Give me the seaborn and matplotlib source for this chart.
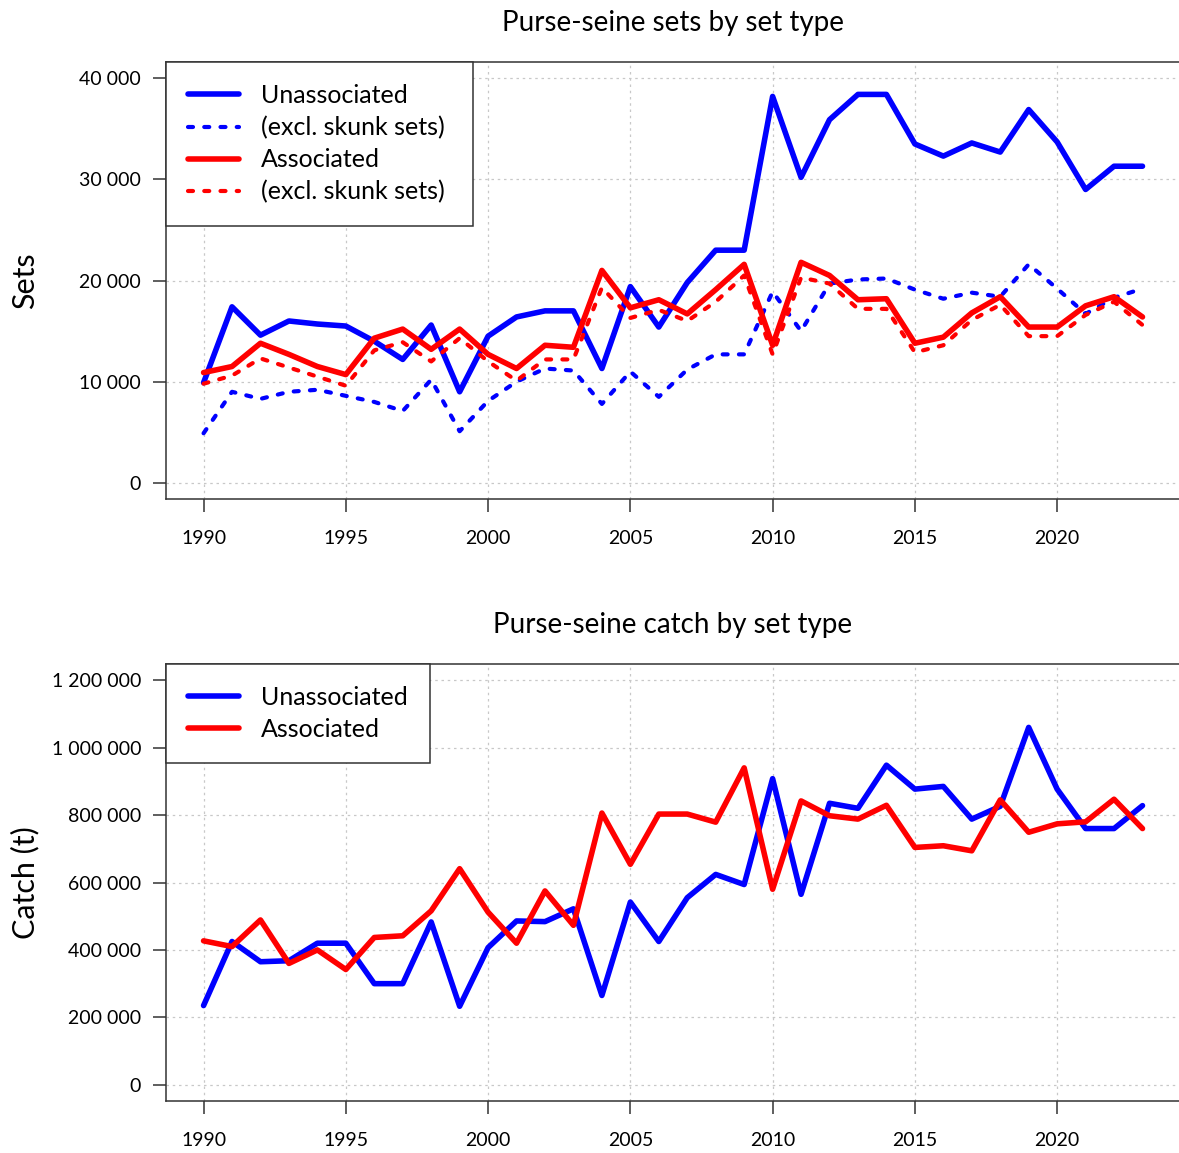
import matplotlib
matplotlib.use("Agg")
import matplotlib.pyplot as plt
import seaborn as sns

# Fishing years
years = list(range(1990, 2024))

# Number of purse-seine sets
unassoc_sets = [9900, 17400, 14600, 16000, 15700, 15500, 14000, 12200, 15600, 9000,
                14500, 16400, 17000, 17000, 11300, 19400, 15400, 19800, 23000, 23000,
                38200, 30200, 35900, 38400, 38400, 33500, 32300, 33600, 32700, 36900,
                33700, 29000, 31300, 31300]
unassoc_sets_excl = [4900, 9000, 8300, 9000, 9200, 8600, 8000, 7100, 10200, 5100,
                     8100, 10000, 11300, 11100, 7800, 11000, 8500, 11200, 12700, 12700,
                     18900, 15000, 19700, 20100, 20200, 19100, 18200, 18800, 18400, 21600,
                     19200, 16700, 18300, 19200]
assoc_sets = [10900, 11500, 13800, 12700, 11500, 10700, 14300, 15200, 13200, 15200,
              12700, 11300, 13600, 13400, 21000, 17300, 18100, 16700, 19100, 21600,
              13600, 21800, 20500, 18100, 18200, 13800, 14400, 16800, 18400, 15400,
              15400, 17500, 18400, 16400]
assoc_sets_excl = [9800, 10600, 12300, 11400, 10500, 9600, 13100, 13900, 12000, 14300,
                   12000, 10100, 12200, 12200, 19300, 16300, 17100, 16000, 17900, 20500,
                   12700, 20300, 19700, 17200, 17200, 12900, 13600, 16100, 17600, 14500,
                   14500, 16600, 17900, 15600]

# Purse-seine catch (tonnes)
unassoc_catch = [235000, 425000, 365000, 368000, 420000, 420000, 300000, 300000, 483000, 233000,
                 407000, 486000, 484000, 522000, 265000, 542000, 425000, 555000, 624000, 594000,
                 908000, 565000, 835000, 820000, 948000, 877000, 885000, 788000, 826000, 1060000,
                 877000, 760000, 760000, 828000]
assoc_catch = [427000, 410000, 489000, 360000, 400000, 342000, 437000, 442000, 516000, 641000,
               512000, 420000, 575000, 473000, 806000, 654000, 803000, 803000, 779000, 940000,
               580000, 842000, 798000, 788000, 829000, 704000, 709000, 694000, 845000, 749000,
               774000, 780000, 847000, 760000]

sets_ticks = [0, 10000, 20000, 30000, 40000]
catch_ticks = [0, 200000, 400000, 600000, 800000, 1000000, 1200000]
year_ticks = [1990, 1995, 2000, 2005, 2010, 2015, 2020]

sns.set_theme(style="white")
plt.rcParams["font.family"] = ["Lato", "DejaVu Sans"]

BLUE = "#0000FF"
RED = "#FF0000"
AXC = "#333333"
SOLID = dict(linewidth=4.0, solid_capstyle="round", solid_joinstyle="round")
DOTTED = dict(linewidth=3.0, linestyle=(0, (1.2, 2.7)), dash_capstyle="round",
              dash_joinstyle="round")


def fmt(v):
    return f"{v:,}".replace(",", " ")


def style_axes(ax, yticks, ylim, ylabel, title):
    ax.set_xlim(1988.68, 2024.32)
    ax.set_ylim(*ylim)
    ax.set_xticks(year_ticks)
    ax.set_xticklabels([str(y) for y in year_ticks])
    ax.set_yticks(yticks)
    ax.set_yticklabels([fmt(v) for v in yticks])
    ax.grid(True, color="#c8c8c8", linewidth=0.9, linestyle=(0, (2, 3)))
    ax.set_axisbelow(True)
    for s in ax.spines.values():
        s.set_visible(True)
        s.set_color(AXC)
        s.set_linewidth(1.1)
    ax.tick_params(axis="both", direction="out", length=9.4, width=1.1, color=AXC,
                   labelsize=14, labelcolor="black")
    ax.tick_params(axis="y", pad=8.6, left=True)
    ax.tick_params(axis="x", pad=13, bottom=True)
    ax.set_xlabel("")
    ax.set_ylabel(ylabel, fontsize=22, color="black")
    ax.yaxis.set_label_coords(-0.139, 0.5)
    ax.yaxis.label.set_verticalalignment("center")
    ax.set_title(title, fontsize=20, color="black", pad=22)


def add_legend(ax):
    leg = ax.legend(loc="upper left", bbox_to_anchor=(0, 1), borderaxespad=0,
                    fontsize=18, frameon=True, fancybox=False, framealpha=1,
                    edgecolor=AXC, handlelength=2.05, handletextpad=0.88,
                    labelspacing=0.36, borderpad=0.88)
    leg.get_frame().set_linewidth(1.1)
    for t in leg.get_texts():
        t.set_color("black")
    return leg


fig = plt.figure(figsize=(11.79, 11.53), dpi=100)
ax1 = fig.add_axes([0.1408, 0.5672, 0.8601, 0.3790])
ax2 = fig.add_axes([0.1408, 0.0451, 0.8601, 0.3790])

# Sets by set type
sns.lineplot(x=years, y=unassoc_sets, ax=ax1, color=BLUE, label="Unassociated", **SOLID)
sns.lineplot(x=years, y=unassoc_sets_excl, ax=ax1, color=BLUE,
             label="(excl. skunk sets)", **DOTTED)
sns.lineplot(x=years, y=assoc_sets, ax=ax1, color=RED, label="Associated", **SOLID)
sns.lineplot(x=years, y=assoc_sets_excl, ax=ax1, color=RED,
             label="(excl. skunk sets) ", **DOTTED)
style_axes(ax1, sets_ticks, (-1600, 41600), "Sets", "Purse-seine sets by set type")
add_legend(ax1)

# Catch by set type
sns.lineplot(x=years, y=unassoc_catch, ax=ax2, color=BLUE, label="Unassociated", **SOLID)
sns.lineplot(x=years, y=assoc_catch, ax=ax2, color=RED, label="Associated", **SOLID)
style_axes(ax2, catch_ticks, (-48000, 1248000), "Catch (t)", "Purse-seine catch by set type")
add_legend(ax2)

fig.savefig("out.png", dpi=100, facecolor="white")
